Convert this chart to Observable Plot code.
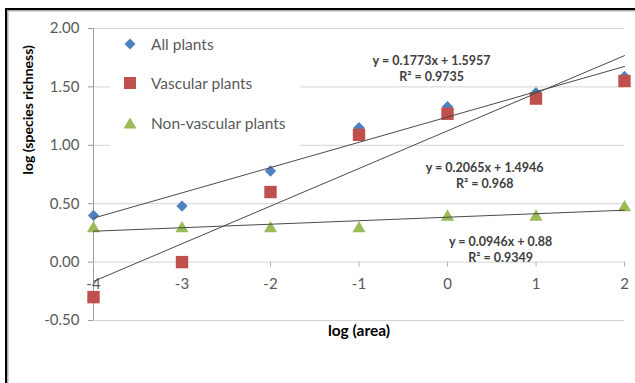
<!DOCTYPE html>
<html><head><meta charset="utf-8">
<script src="https://cdn.jsdelivr.net/npm/d3@7"></script>
<script src="https://cdn.jsdelivr.net/npm/@observablehq/plot@0.6"></script>
<style>
html,body{margin:0;padding:0;background:#fff;}
#wrap{position:relative;width:635px;height:383px;overflow:hidden;font-family:Lato,"Open Sans",sans-serif;}
#frame{position:absolute;left:5px;top:8px;width:700px;height:500px;border-top:2.5px solid #000;border-left:2.5px solid #000;box-shadow:inset 1.5px 1.5px 0 #b0b0b0;}
#chart{position:absolute;left:0;top:0;}
#legend{position:absolute;left:110px;top:31px;width:190px;height:116px;background:#fff;}
.row{position:absolute;left:0;height:20px;line-height:20px;font-size:15.5px;color:#595959;white-space:nowrap;}
.row svg{position:absolute;left:13px;top:3px;}
.row span{position:absolute;left:41px;top:0;}
</style>
</head><body>
<div id="wrap"><div id="frame"></div><div id="chart"></div><div id="legend"></div></div>
<script>
const xValues = [-4, -3, -2, -1, 0, 1, 2];
const allPlants = [0.40, 0.48, 0.78, 1.15, 1.33, 1.45, 1.59];
const vascular = [-0.30, 0.00, 0.60, 1.09, 1.27, 1.40, 1.55];
const nonVascular = [0.30, 0.30, 0.30, 0.30, 0.40, 0.40, 0.48];
const seriesNames = ["All plants", "Vascular plants", "Non-vascular plants"];
const seriesColors = ["#4F81BD", "#C0504D", "#9BBB59"];
const xTicks = [-4, -3, -2, -1, 0, 1, 2];
const yTicks = [-0.5, 0, 0.5, 1, 1.5, 2];
const equationText = ["y = 0.1773x + 1.5957\nR\u00b2 = 0.9735", "y = 0.2065x + 1.4946\nR\u00b2 = 0.968", "y = 0.0946x + 0.88\nR\u00b2 = 0.9349"];
const equationAt = [[-0.18, 1.66], [0.42, 0.75], [0.60, 0.115]];

const rows = (vals, name) => xValues.map((x, i) => ({x, y: vals[i], series: name}));
const sAll = rows(allPlants, seriesNames[0]);
const sVasc = rows(vascular, seriesNames[1]);
const sNon = rows(nonVascular, seriesNames[2]);
const eqs = equationText.map((t, i) => ({text: t, x: equationAt[i][0], y: equationAt[i][1]}));

const lineColor = "#4a4a4a";
const chart = Plot.plot({
  width: 635, height: 383,
  marginLeft: 93, marginRight: 11, marginTop: 28, marginBottom: 63,
  x: {domain: [-4, 2], axis: null},
  y: {domain: [-0.5, 2], axis: null},
  style: {fontFamily: "Lato, 'Open Sans', sans-serif", fontSize: "13px", color: "#595959", background: "transparent", overflow: "visible"},
  marks: [
    Plot.ruleY(yTicks, {stroke: "#d4d4d4", strokeWidth: 1}),
    Plot.ruleX([xTicks[0]], {stroke: "#9a9a9a"}),
    Plot.axisY(yTicks, {tickFormat: d => d.toFixed(2), tickSize: 5, tickPadding: 9, stroke: "#9a9a9a", fill: "#595959", fontSize: 15, label: null}),
    Plot.ruleX(xTicks, {x: d => d, y1: 0, y2: 0, insetBottom: -5, stroke: "#b0b0b0"}),
    Plot.text(xTicks, {x: d => d, y: 0, dy: 22, text: d => String(d), fill: "#595959", fontSize: 15}),
    Plot.dot(sAll, {x: "x", y: "y", symbol: "diamond2", r: 5.1, fill: seriesColors[0], stroke: null}),
    Plot.dot(sVasc, {x: "x", y: "y", symbol: "square", r: 7.0, fill: seriesColors[1], stroke: null}),
    Plot.dot(sNon, {x: "x", y: "y", symbol: "triangle", r: 4.9, fill: seriesColors[2], stroke: null, dy: 1.5}),
    Plot.linearRegressionY(sAll, {x: "x", y: "y", ci: 0, stroke: lineColor, strokeWidth: 1}),
    Plot.linearRegressionY(sVasc, {x: "x", y: "y", ci: 0, stroke: lineColor, strokeWidth: 1}),
    Plot.linearRegressionY(sNon, {x: "x", y: "y", ci: 0, stroke: lineColor, strokeWidth: 1}),
    Plot.text(eqs, {x: "x", y: "y", text: "text", fontSize: 12.5, fontWeight: "bold", lineHeight: 1.28, fill: "#404040"}),
    Plot.text(["log (species richness)"], {frameAnchor: "left", dx: -65, rotate: -90, fontWeight: "bold", fontSize: 14, fill: "#000"}),
    Plot.text(["log (area)"], {frameAnchor: "bottom", dy: 15, fontWeight: "bold", fontSize: 15.5, fill: "#000"})
  ]
});
document.getElementById("chart").appendChild(chart);

const symbolsSvg = [
  c => `<svg width="14" height="14"><polygon points="7,1.5 12.5,7 7,12.5 1.5,7" fill="${c}"/></svg>`,
  c => `<svg width="14" height="14"><rect x="1" y="1" width="12" height="12" fill="${c}"/></svg>`,
  c => `<svg width="14" height="14"><polygon points="7,1.5 13.5,12.5 0.5,12.5" fill="${c}"/></svg>`
];
const legend = document.getElementById("legend");
const rowCenters = [13, 52, 92];
seriesNames.forEach((name, i) => {
  const r = document.createElement("div");
  r.className = "row";
  r.style.top = (rowCenters[i] - 10) + "px";
  r.innerHTML = symbolsSvg[i](seriesColors[i]) + `<span>${name}</span>`;
  legend.appendChild(r);
});
</script>
</body></html>
